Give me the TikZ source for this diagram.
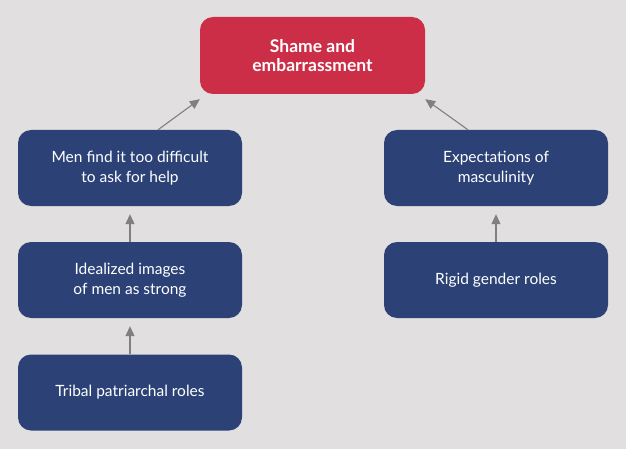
\documentclass[tikz,border=0pt]{standalone}
\usepackage{fontspec}
\setmainfont{Lato}
\usetikzlibrary{arrows.meta}
\definecolor{bgc}{HTML}{E1DFDF}
\definecolor{redc}{HTML}{CC2E48}
\definecolor{bluec}{HTML}{2C4277}
\definecolor{arrc}{HTML}{808080}
\tikzset{
  box/.style={rectangle, rounded corners=13pt, minimum width=224pt, minimum height=76pt, inner sep=0pt, text=white, align=center, font=\fontsize{15.5}{19.5}\selectfont},
  bluebox/.style={box, fill=bluec},
  redbox/.style={box, fill=redc, minimum width=225pt, minimum height=77pt, font=\fontsize{17.5}{19.5}\selectfont\bfseries},
  arr/.style={draw=arrc, line width=1.1pt, -{Triangle[length=10pt,width=9pt]}}
}
\begin{document}
\begin{tikzpicture}[x=1pt,y=-1pt]
\fill[bgc] (0,0) rectangle (626,449);
\useasboundingbox (0,0) rectangle (626,449);
\node[redbox] (top) at (312.5,55.5) {Shame and\\embarrassment};
\node[bluebox] (l1) at (130,168) {Men find it too difficult\\to ask for help};
\node[bluebox] (l2) at (130,280) {Idealized images\\of men as strong};
\node[bluebox] (l3) at (130,392.5) {Tribal patriarchal roles};
\node[bluebox] (r1) at (496,168) {Expectations of\\masculinity};
\node[bluebox] (r2) at (496,280) {Rigid gender roles};
\draw[arr, shorten >=8pt] (l3) -- (l2);
\draw[arr, shorten >=8pt] (l2) -- (l1);
\draw[arr, shorten >=8pt] (r2) -- (r1);
\draw[arr] ([xshift=28pt]l1.north) -- ([yshift=-5pt]top.south west);
\draw[arr] ([xshift=-28pt]r1.north) -- ([yshift=-5pt]top.south east);
\end{tikzpicture}
\end{document}
